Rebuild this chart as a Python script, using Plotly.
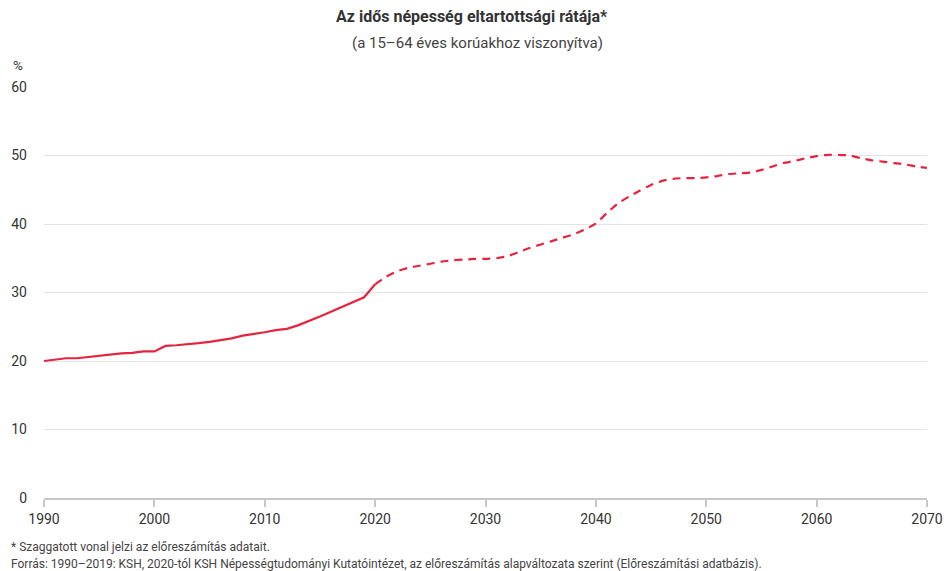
import plotly.graph_objects as go

years_hist = list(range(1990, 2021))
values_hist = [20.0, 20.2, 20.4, 20.4, 20.6, 20.8, 21.0, 21.1, 21.2, 21.4,
               21.4, 22.2, 22.3, 22.4, 22.6, 22.8, 23.0, 23.3, 23.7, 23.9,
               24.2, 24.5, 24.7, 25.2, 25.8, 26.5, 27.2, 27.9, 28.6, 29.3,
               31.2]
years_proj = list(range(2020, 2071))
values_proj = [31.2, 32.3, 33.1, 33.6, 33.9, 34.2, 34.5, 34.7, 34.8, 34.9,
               34.9, 35.0, 35.3, 35.9, 36.5, 37.0, 37.5, 38.0, 38.5, 39.2,
               40.1, 41.6, 43.0, 44.0, 44.9, 45.7, 46.3, 46.6, 46.7, 46.7,
               46.8, 47.0, 47.3, 47.4, 47.5, 47.9, 48.4, 48.9, 49.2, 49.6,
               49.9, 50.1, 50.1, 50.0, 49.6, 49.3, 49.1, 48.9, 48.7, 48.4,
               48.2]
x_ticks = list(range(1990, 2071, 10))
y_ticks = [0, 10, 20, 30, 40, 50, 60]

RED = "#E5243F"
FONT = "Roboto"

fig = go.Figure()
fig.add_trace(go.Scatter(x=years_hist, y=values_hist, mode="lines",
                         line=dict(color=RED, width=2.2), hoverinfo="x+y",
                         showlegend=False))
fig.add_trace(go.Scatter(x=years_proj, y=values_proj, mode="lines",
                         line=dict(color=RED, width=2.2, dash="8px,6px", shape="spline", smoothing=0.6),
                         hoverinfo="x+y", showlegend=False))

fig.update_layout(
    width=944, height=571,
    margin=dict(l=44, r=17, t=87, b=73, autoexpand=False),
    paper_bgcolor="white", plot_bgcolor="white",
    font=dict(family=FONT, color="#333333", size=13),
    xaxis=dict(range=[1990, 2070], tickvals=x_ticks, showgrid=False, automargin=False,
               showline=True, linecolor="#c8c8c8", linewidth=1.5,
               ticks="outside", ticklen=7, tickcolor="#c8c8c8", tickwidth=1.5,
               tickfont=dict(size=14, color="#333333"), zeroline=False),
    yaxis=dict(range=[0, 60], tickvals=y_ticks, showgrid=True, automargin=False,
               gridcolor="#e3e3e3", gridwidth=1.2, zeroline=False,
               showline=False, ticks="", ticklabelstandoff=16,
               tickfont=dict(size=14, color="#333333")),
)

plot_h = 571 - 87 - 73
def ypix(py):
    return (571 - 73 - py) / plot_h

plot_w = 944 - 44 - 17
def xpix(px):
    return (px - 44) / plot_w

fig.add_annotation(text="<b>Az idős népesség eltartottsági rátája*</b>", x=xpix(472), y=ypix(16),
                   xref="paper", yref="paper", showarrow=False, xanchor="center", yanchor="middle",
                   font=dict(size=16, color="#333333", family=FONT))
fig.add_annotation(text="(a 15–64 éves korúakhoz viszonyítva)", x=xpix(477), y=ypix(43),
                   xref="paper", yref="paper", showarrow=False, xanchor="center", yanchor="middle",
                   font=dict(size=15, color="#444444", family=FONT))
fig.add_annotation(text="%", x=xpix(11), y=ypix(65),
                   xref="paper", yref="paper", showarrow=False, xanchor="left", yanchor="middle",
                   font=dict(size=13.5, color="#333333", family=FONT))
fig.add_annotation(text="* Szaggatott vonal jelzi az előreszámítás adatait.", x=xpix(9), y=ypix(547),
                   xref="paper", yref="paper", showarrow=False, xanchor="left", yanchor="middle",
                   font=dict(size=12, color="#444444", family=FONT))
fig.add_annotation(text="Forrás: 1990–2019: KSH, 2020-tól KSH Népességtudományi Kutatóintézet, az előreszámítás alapváltozata szerint (Előreszámítási adatbázis).",
                   x=xpix(9), y=ypix(564),
                   xref="paper", yref="paper", showarrow=False, xanchor="left", yanchor="middle",
                   font=dict(size=12, color="#444444", family=FONT))

fig.write_html("out.html")
